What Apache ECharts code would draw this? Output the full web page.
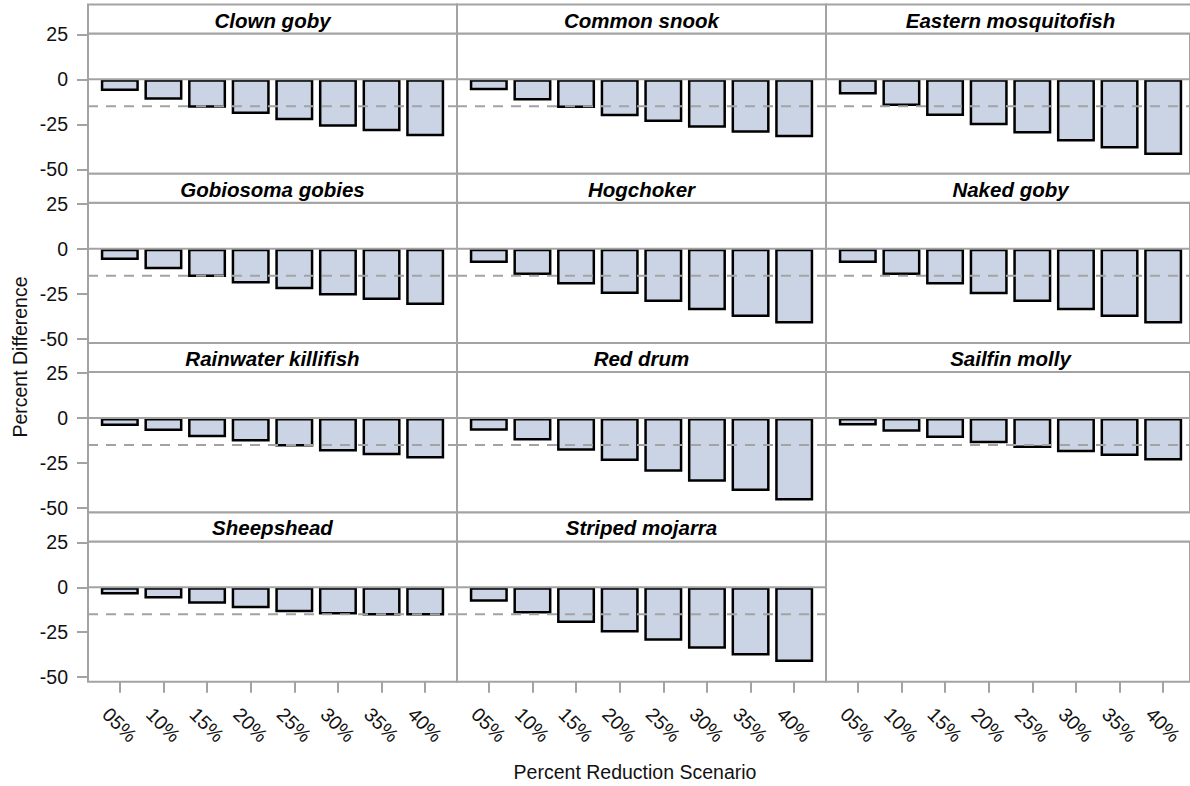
<!DOCTYPE html>
<html><head><meta charset="utf-8">
<script src="https://cdn.jsdelivr.net/npm/echarts@6.0.0/dist/echarts.min.js"></script>
<style>html,body{margin:0;padding:0;background:#fff;}#chart{width:1190px;height:786px;}</style>
</head><body><div id="chart"></div>
<script>
// ---------- data ----------
const scenarios = ['05%', '10%', '15%', '20%', '25%', '30%', '35%', '40%'];
const speciesNames = ['Clown goby', 'Common snook', 'Eastern mosquitofish', 'Gobiosoma gobies', 'Hogchoker', 'Naked goby', 'Rainwater killifish', 'Red drum', 'Sailfin molly', 'Sheepshead', 'Striped mojarra'];
const clownGoby = [-6.5, -11.4, -15.8, -19.3, -22.7, -26.3, -28.9, -31.6];
const commonSnook = [-6.1, -11.8, -15.9, -20.5, -23.7, -26.9, -29.7, -32.2];
const easternMosquitofish = [-8.4, -14.8, -20.3, -25.5, -30.1, -34.6, -38.4, -42.0];
const gobiosomaGobies = [-6.3, -11.4, -15.7, -19.3, -22.6, -26.0, -28.6, -31.3];
const hogchoker = [-8.0, -14.7, -19.9, -25.2, -29.7, -34.2, -38.0, -41.6];
const nakedGoby = [-8.0, -14.6, -19.9, -25.3, -29.7, -34.3, -38.0, -41.6];
const rainwaterKillifish = [-4.4, -7.3, -10.7, -13.1, -15.9, -18.6, -20.7, -22.5];
const redDrum = [-7.1, -12.5, -18.2, -23.9, -29.9, -35.5, -40.6, -45.9];
const sailfinMolly = [-4.2, -7.6, -11.2, -14.0, -16.7, -19.1, -21.2, -23.7];
const sheepshead = [-4.0, -6.3, -9.1, -11.6, -13.9, -15.2, -15.7, -15.7];
const stripedMojarra = [-8.0, -14.6, -19.9, -25.2, -29.7, -34.2, -38.0, -41.6];
const panelValues = [clownGoby, commonSnook, easternMosquitofish, gobiosomaGobies, hogchoker, nakedGoby, rainwaterKillifish, redDrum, sailfinMolly, sheepshead, stripedMojarra];
const yTickValues = [-50, -25, 0, 25];
const referenceLevel = -15;
const zeroLevel = 0;
const yMin = -52.5, yMax = 25.5;

// ---------- layout / style ----------
const FONT = '"Liberation Sans", Arial, Helvetica, sans-serif';
const GREY = '#a3a3a3';
const colX = [88, 457, 826], colW = 369, pad = 10;
const rowPeriod = 169.3, firstTop = 4.5, headerH = 29, plotH = 140.3;

const grids = [], xAxes = [], yAxes = [], series = [], graphics = [];
for (let p = 0; p < 12; p++) {
  const r = Math.floor(p / 3), c = p % 3;
  const headerTop = firstTop + r * rowPeriod;
  const plotTop = headerTop + headerH;
  const isBottom = r === 3;
  const hasData = p < speciesNames.length;

  // full-width frame grid
  const fi = grids.length;
  grids.push({left: colX[c], top: plotTop, width: colW, height: plotH, show: true,
    borderColor: GREY, borderWidth: 2, backgroundColor: 'transparent'});
  xAxes.push({type: 'value', gridIndex: fi, min: 0, max: 1, show: false});
  yAxes.push({type: 'value', gridIndex: fi, min: yMin, max: yMax, show: c === 0,
    axisLine: {show: false}, splitLine: {show: false},
    axisTick: {show: true, customValues: yTickValues, length: 11, lineStyle: {color: GREY, width: 2}},
    axisLabel: {customValues: yTickValues, margin: 20, fontSize: 19.5, color: '#111', fontFamily: FONT}});

  // inset bar grid
  const bi = grids.length;
  grids.push({left: colX[c] + pad, top: plotTop, width: colW - 2 * pad, height: plotH});
  xAxes.push({type: 'category', gridIndex: bi, data: scenarios, show: isBottom,
    axisLine: {show: false, onZero: false},
    axisTick: {show: true, alignWithLabel: true, length: 11, lineStyle: {color: GREY, width: 2}},
    axisLabel: {interval: 0, rotate: -45, align: 'center', verticalAlign: 'middle', margin: 43,
      fontSize: 19.5, color: '#111', fontFamily: FONT}});
  yAxes.push({type: 'value', gridIndex: bi, min: yMin, max: yMax, show: false});

  if (hasData) {
    series.push({type: 'bar', xAxisIndex: bi, yAxisIndex: bi, data: panelValues[p], barWidth: 38,
      itemStyle: {color: '#cad4e4', borderColor: '#000', borderWidth: 2.5}, z: 2, silent: true});
    series.push({type: 'line', xAxisIndex: fi, yAxisIndex: fi, data: [[0, zeroLevel], [1, zeroLevel]],
      symbol: 'none', lineStyle: {color: GREY, width: 2, type: 'solid'}, z: 5, silent: true});
    series.push({type: 'line', xAxisIndex: fi, yAxisIndex: fi, data: [[0, referenceLevel], [1, referenceLevel]],
      symbol: 'none', lineStyle: {color: GREY, width: 2, type: [10, 8]}, z: 5, silent: true});
  }

  // header box + title
  graphics.push({type: 'rect', shape: {x: colX[c], y: headerTop, width: colW, height: headerH},
    style: {fill: '#fff', stroke: GREY, lineWidth: 2}, z: 1, silent: true});
  if (hasData) {
    graphics.push({type: 'text', x: colX[c] + colW / 2, y: headerTop + headerH / 2 + 1, z: 2, silent: true,
      style: {text: speciesNames[p], fontSize: 20.5, fontWeight: 'bold', fontStyle: 'italic', fontFamily: FONT,
        fill: '#000', align: 'center', verticalAlign: 'middle'}});
  }
}
graphics.push({type: 'text', x: 19.5, y: 357, rotation: Math.PI / 2, silent: true,
  style: {text: 'Percent Difference', fontSize: 19.5, fontFamily: FONT, fill: '#111', align: 'center', verticalAlign: 'middle'}});
graphics.push({type: 'text', x: 635, y: 772, silent: true,
  style: {text: 'Percent Reduction Scenario', fontSize: 19.5, fontFamily: FONT, fill: '#111', align: 'center', verticalAlign: 'middle'}});

const chart = echarts.init(document.getElementById('chart'), null, {renderer: 'svg'});
chart.setOption({
  animation: false,
  backgroundColor: '#fff',
  grid: grids, xAxis: xAxes, yAxis: yAxes, series: series, graphic: graphics
});
</script></body></html>
